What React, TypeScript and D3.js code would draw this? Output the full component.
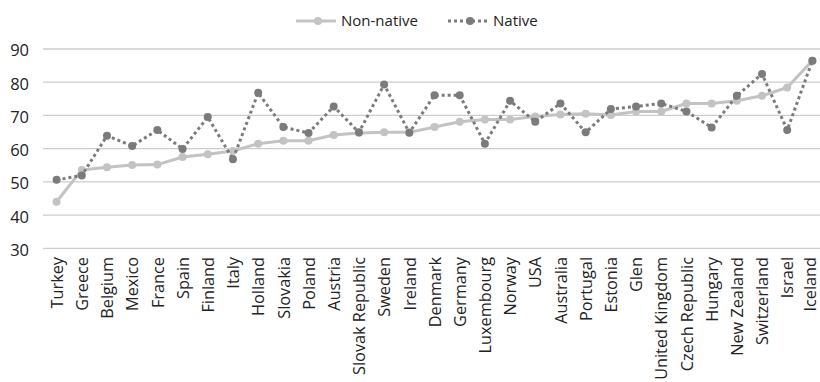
import React from "react";
import * as d3 from "d3";

const categories = ["Turkey","Greece","Belgium","Mexico","France","Spain","Finland","Italy","Holland","Slovakia","Poland","Austria","Slovak Republic","Sweden","Ireland","Denmark","Germany","Luxembourg","Norway","USA","Australia","Portugal","Estonia","Glen","United Kingdom","Czech Republic","Hungary","New Zealand","Switzerland","Israel","Iceland"];
const nonNative = [44,53.6,54.4,55.1,55.2,57.5,58.3,59.3,61.5,62.4,62.4,64.1,64.7,64.9,64.9,66.5,68.1,68.8,68.8,69.7,70.3,70.5,70.1,71.2,71.2,73.6,73.6,74.4,75.9,78.4,86.5];
const native = [50.6,51.9,63.9,60.8,65.6,59.9,69.5,56.8,76.8,66.5,64.7,72.7,64.9,79.3,64.8,76.1,76.1,61.5,74.4,68.1,73.6,64.9,71.9,72.7,73.6,71.2,66.4,75.9,82.5,65.6,86.5];
const yTicks = [30,40,50,60,70,80,90];
const seriesNames = ["Non-native","Native"];

const W = 820, H = 382;
const NN_COLOR = "#c3c3c3";
const N_COLOR = "#7b7b7b";
const FONT = "'Open Sans', 'Noto Sans', sans-serif";

export default function App() {
  const x = d3.scalePoint<string>().domain(categories).range([44, 825]).padding(0.5);
  const y = d3.scaleLinear().domain([30, 90]).range([248.3, 49]);
  const line = d3.line<number>().x((_, i) => x(categories[i])!).y(d => y(d));

  return (
    <svg width={W} height={H} style={{ position: "absolute", left: 0, top: 0, background: "#fff" }} fontFamily={FONT}>
      {yTicks.map(t => (
        <g key={t}>
          <line x1={43} x2={820} y1={y(t)} y2={y(t)} stroke="#cdcdcd" strokeWidth={1.3} />
          <text x={29} y={y(t)} dy="0.45em" textAnchor="end" fontSize={16.5} fill="#222">{t}</text>
        </g>
      ))}
      {categories.map(c => (
        <text key={c} transform={`translate(${Math.min(x(c)! + 0.5, 810)},257) rotate(-90)`} textAnchor="end" dy="0.35em" fontSize={16.3} fill="#222">{c}</text>
      ))}
      <path d={line(nonNative)!} fill="none" stroke={NN_COLOR} strokeWidth={3} strokeLinejoin="round" />
      {nonNative.map((v, i) => (
        <circle key={"nn" + i} cx={x(categories[i])!} cy={y(v)} r={4} fill={NN_COLOR} />
      ))}
      <path d={line(native)!} fill="none" stroke={N_COLOR} strokeWidth={3} strokeDasharray="3,3" />
      {native.map((v, i) => (
        <circle key={"n" + i} cx={x(categories[i])!} cy={y(v)} r={4} fill={N_COLOR} />
      ))}
      <g>
        <line x1={296} x2={336} y1={21} y2={21} stroke={NN_COLOR} strokeWidth={3} />
        <circle cx={318} cy={21} r={4} fill={NN_COLOR} />
        <text x={341} y={21} dy="0.35em" fontSize={15} fill="#222">{seriesNames[0]}</text>
        <line x1={448} x2={488} y1={21} y2={21} stroke={N_COLOR} strokeWidth={3} strokeDasharray="3,3" />
        <circle cx={470} cy={21} r={4} fill={N_COLOR} />
        <text x={493} y={21} dy="0.35em" fontSize={15} fill="#222">{seriesNames[1]}</text>
      </g>
    </svg>
  );
}
